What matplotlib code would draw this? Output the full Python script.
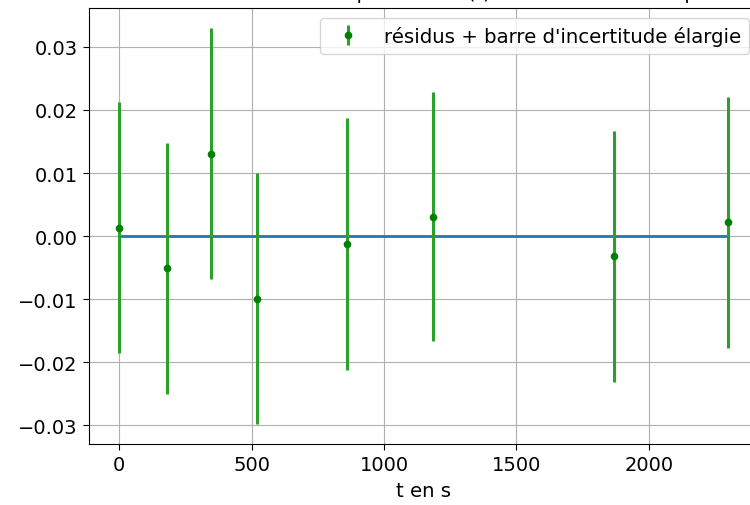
import matplotlib
matplotlib.use("Agg")
import matplotlib.pyplot as plt
import numpy as np

# Data
t = [0, 179, 346, 520, 859, 1186, 1868, 2299]
residus = [0.0013, -0.0051, 0.0131, -0.0099, -0.0013, 0.0031, -0.0032, 0.0022]
incertitude = [0.0199, 0.0199, 0.0199, 0.0199, 0.0200, 0.0198, 0.0199, 0.0199]
zero = [0.0] * len(t)

titre = "Résidus du modèle exponentiel u(t) en fonction du temps"
label_leg = "résidus + barre d'incertitude élargie"
xlabel = "t en s"
fs = 14.2

plt.rcParams['font.family'] = ['DejaVu Sans']
fig = plt.figure(figsize=(7.5, 5.06), dpi=100)
ax = fig.add_axes([0.1185, 0.1208, 0.8928, 0.8610])

ax.plot(t, zero, color='C0', lw=2.0)
ax.errorbar(t, residus, yerr=incertitude, fmt='o', color='green', ms=4.5,
            ecolor='tab:green', elinewidth=2.2, capsize=0, label=label_leg)
ax.grid(True)
ax.set_xlabel(xlabel, fontsize=fs, labelpad=5)
ax.tick_params(labelsize=14, length=4.5)
ax.set_title(titre, fontsize=fs, pad=7.5)
ax.legend(loc='upper right', fontsize=fs, borderaxespad=0.5)
ax.set_xticks([0, 500, 1000, 1500, 2000])
ax.set_yticks([-0.03, -0.02, -0.01, 0.0, 0.01, 0.02, 0.03])

fig.savefig("out.png", dpi=100)
